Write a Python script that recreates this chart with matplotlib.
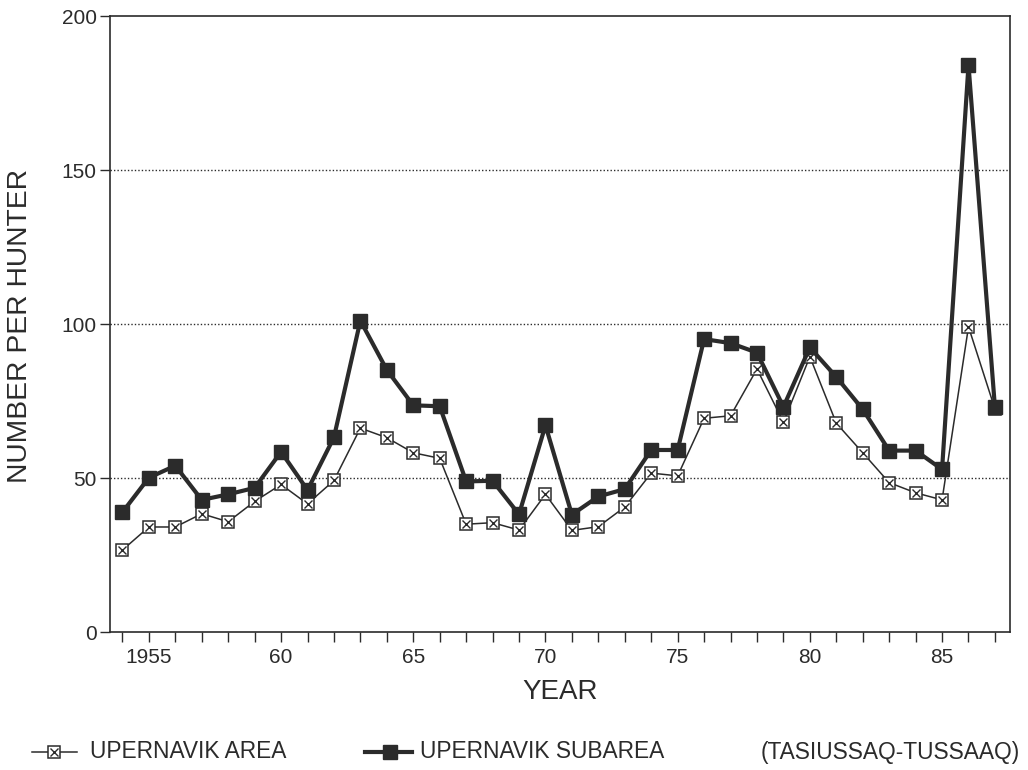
import matplotlib
matplotlib.use("Agg")
import matplotlib.pyplot as plt
from matplotlib.lines import Line2D

plt.rcParams['font.family'] = ['Liberation Sans', 'DejaVu Sans']

years = list(range(1954, 1988))
area = [26.7, 34.2, 34.2, 38.5, 35.9, 42.5, 48.0, 41.7, 49.3, 66.3,
        63.2, 58.3, 56.5, 35.1, 35.6, 33.2, 44.8, 33.1, 34.3, 40.7,
        51.7, 50.8, 69.5, 70.3, 85.5, 68.2, 89.5, 67.9, 58.3, 48.6,
        45.3, 43.0, 99.2, 72.5]
subarea = [39.0, 50.2, 54.1, 43.0, 44.8, 46.9, 58.6, 46.2, 63.3, 101.2,
           85.2, 73.7, 73.4, 49.0, 49.2, 38.3, 67.2, 38.2, 44.1, 46.5,
           59.2, 59.2, 95.2, 93.9, 90.8, 73.2, 92.5, 82.9, 72.4, 59.0,
           59.0, 52.9, 184.2, 73.0]
xtick_years = [1955, 1960, 1965, 1970, 1975, 1980, 1985]
xtick_labels = ["1955", "60", "65", "70", "75", "80", "85"]
yticks = [0, 50, 100, 150, 200]
grid_levels = [50, 100, 150]
legend_labels = ["UPERNAVIK AREA", "UPERNAVIK SUBAREA", "(TASIUSSAQ-TUSSAAQ)"]

ink = '#2b2b2b'

fig = plt.figure(figsize=(10.28, 7.70), dpi=100)
ax = fig.add_axes([0.107, 0.1788, 0.8755, 0.8])

for g in grid_levels:
    ax.axhline(g, color=ink, lw=1.0, ls=(0, (1, 1.5)), zorder=1)

# Area: thin line with crossed open squares
ax.plot(years, area, color=ink, lw=1.1, marker='s', ms=8.5,
        mfc='white', mec=ink, mew=1.1, zorder=3)
ax.plot(years, area, ls='none', marker='x', ms=6.0, mec=ink, mew=1.0,
        zorder=3.1)
# Subarea: thick line with filled squares
ax.plot(years, subarea, color=ink, lw=3.0, marker='s', ms=10,
        mfc=ink, mec=ink, zorder=4)

ax.set_xlim(1953.53, 1987.57)
ax.set_ylim(0, 200)
ax.set_xticks(years, minor=True)
ax.set_xticks(xtick_years)
ax.set_xticklabels(xtick_labels)
ax.set_yticks(yticks)
ax.tick_params(axis='x', which='both', direction='out', length=7.5,
               width=1.0, color=ink, labelsize=15, pad=4, labelcolor=ink)
ax.tick_params(axis='y', direction='out', length=7.5, width=1.0,
               color=ink, labelsize=15, pad=2, labelcolor=ink)
for s in ax.spines.values():
    s.set_color(ink)
    s.set_linewidth(1.2)

fig.text(0.5447, 1 - 691.7 / 770, "YEAR", ha='center', va='center',
         fontsize=20, color=ink)
fig.text(20 / 1028, 1 - 326 / 770, "NUMBER PER HUNTER", ha='center',
         va='center', rotation=90, fontsize=20.3, color=ink)

# Legend row along the bottom of the figure
ly = 1 - 752 / 770
fig.add_artist(Line2D([32 / 1028, 77 / 1028], [ly, ly], color=ink, lw=1.1,
                      transform=fig.transFigure))
fig.add_artist(Line2D([54 / 1028], [ly], ls='none', marker='s', ms=8,
                      mfc='white', mec=ink, mew=1.1,
                      transform=fig.transFigure))
fig.add_artist(Line2D([54 / 1028], [ly], ls='none', marker='x', ms=5.5,
                      mec=ink, mew=1.0, transform=fig.transFigure))
fig.text(90 / 1028, ly, legend_labels[0], ha='left', va='center',
         fontsize=16.4, color=ink)
fig.add_artist(Line2D([365 / 1028, 412 / 1028], [ly, ly], color=ink, lw=3.0,
                      transform=fig.transFigure))
fig.add_artist(Line2D([390 / 1028], [ly], ls='none', marker='s', ms=9.5,
                      mfc=ink, mec=ink, transform=fig.transFigure))
fig.text(420 / 1028, ly, legend_labels[1], ha='left', va='center',
         fontsize=16.4, color=ink)
fig.text(1020 / 1028, ly, legend_labels[2], ha='right', va='center',
         fontsize=16.4, color=ink)

fig.savefig("out.png", dpi=100)
